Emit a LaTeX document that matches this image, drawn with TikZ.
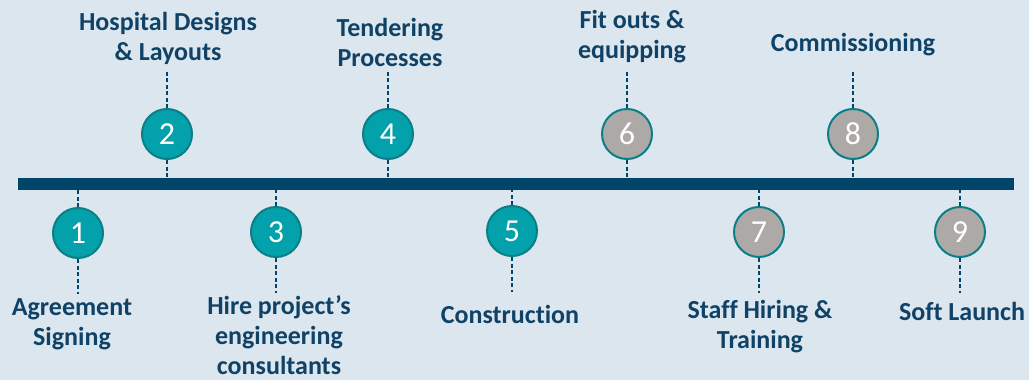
\documentclass[tikz,border=0pt]{standalone}
\usepackage{fontspec}
\setmainfont[Ligatures=NoCommon]{Carlito}
\usepackage{tikz}
\usetikzlibrary{positioning}
\definecolor{bgblue}{HTML}{DCE6EE}
\definecolor{barblue}{HTML}{01456A}
\definecolor{txtblue}{HTML}{0F4266}
\definecolor{tealfill}{HTML}{03A1AB}
\definecolor{tealline}{HTML}{0A7F87}
\definecolor{greyfill}{HTML}{ADA9A7}
\tikzset{x=1pt,y=-1pt,
  done/.style={circle,draw=tealline,line width=2pt,fill=tealfill,minimum size=50pt,inner sep=0pt,
    text=white,font=\fontsize{32}{32}\selectfont},
  todo/.style={done,fill=greyfill},
  caption/.style={align=center,inner sep=0pt,anchor=north,text=txtblue,
    font=\fontsize{26}{30}\selectfont\bfseries},
  tick/.style={draw=barblue,line width=1.5pt,dash pattern=on 4pt off 2.5pt}}
\begin{document}
\begin{tikzpicture}
    \fill[bgblue] (0,0) rectangle (1029,380);
    \useasboundingbox (0,0) rectangle (1029,380);
    % the time line
    \coordinate (bl) at (18,184);
    \coordinate (br) at (1014,184);
    \draw[barblue,line width=12pt] (bl) -- (br);
    \coordinate (btop) at (0,178);
    \coordinate (bbot) at (0,190);
    % steps
    \node[done] (s1) at (78,233) {1};
    \node[done] (s2) at (167,134) {2};
    \node[done] (s3) at (276,232) {3};
    \node[done] (s4) at (388,134) {4};
    \node[done] (s5) at (512,231) {5};
    \node[todo] (s6) at (627,134) {6};
    \node[todo] (s7) at (759,232) {7};
    \node[todo] (s8) at (853,134) {8};
    \node[todo] (s9) at (960,232) {9};
    % captions
    \node[caption] (t1) at (72,298) {Agreement\\Signing};
    \node[caption] (t2) at (168,12) {Hospital Designs\\\& Layouts};
    \node[caption] (t3) at (279,295) {Hire project’s\\engineering\\consultants};
    \node[caption] (t4) at (390,18) {Tendering\\Processes};
    \node[caption] (t5) at (510,305) {Construction};
    \node[caption] (t6) at (632,10) {Fit outs \&\\equipping};
    \node[caption] (t7) at (760,300) {Staff Hiring \&\\Training};
    \node[caption] (t8) at (853,33) {Commissioning};
    \node[caption] (t9) at (962,302) {Soft Launch};
    % dashed ticks
    \foreach \n in {1,3,5,7,9}{
      \coordinate (e\n) at ([yshift=-35pt]s\n.south);
      \draw[tick] (s\n.north) -- (s\n.north |- bbot);
      \draw[tick] (s\n.south) -- (e\n);
    }
    \foreach \n in {2,4,6,8}{
      \coordinate (e\n) at ([yshift=36pt]s\n.north);
      \draw[tick] (s\n.south) -- (s\n.south |- btop);
      \draw[tick] (s\n.north) -- (e\n);
    }
\end{tikzpicture}
\end{document}
